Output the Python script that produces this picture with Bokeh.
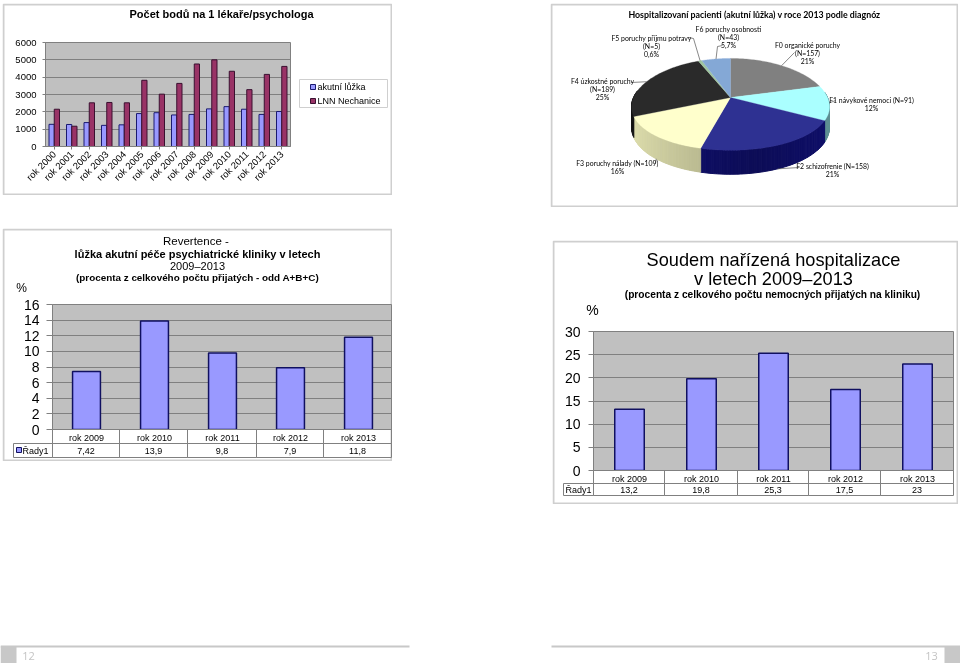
import numpy as np
from bokeh.plotting import figure
from bokeh.models import BoxAnnotation, Label, Range1d, SingleIntervalTicker
from bokeh.transform import dodge
from bokeh.embed import file_html
from bokeh.resources import INLINE

SANS = "Liberation Sans"
LATO = "Lato"

# ---- data
years_a = ["rok 2000", "rok 2001", "rok 2002", "rok 2003", "rok 2004", "rok 2005", "rok 2006",
           "rok 2007", "rok 2008", "rok 2009", "rok 2010", "rok 2011", "rok 2012", "rok 2013"]
akutni = [1280, 1270, 1380, 1220, 1250, 1900, 1950, 1820, 1850, 2170, 2300, 2150, 1850, 2020]
lnn = [2150, 1170, 2520, 2540, 2520, 3820, 3020, 3640, 4760, 5000, 4340, 3280, 4160, 4620]

years_b = ["rok 2009", "rok 2010", "rok 2011", "rok 2012", "rok 2013"]
revertence = [7.42, 13.9, 9.8, 7.9, 11.8]
revertence_txt = ["7,42", "13,9", "9,8", "7,9", "11,8"]
soud = [13.2, 19.8, 25.3, 17.5, 23]
soud_txt = ["13,2", "19,8", "25,3", "17,5", "23"]

diag_n = [157, 91, 158, 109, 189, 5, 43]
diag_top = ["#808080", "#aaffff", "#2e3192", "#ffffcc", "#2a2a2a", "#9fc5a0", "#84a8d6"]
diag_side = ["#5a5a5a", "#5f8f94", "#10106a", "#c8c89c", "#151515", "#708070", "#5a7aa0"]

BLUE, MAROON = "#9999ff", "#993366"
BG, GRID = "#c0c0c0", "#808080"
PANEL = "#cfcfcf"


def place(p, x, y):
    p.styles = {"position": "fixed", "left": f"{x}px", "top": f"{y}px"}


def txt(p, x, y, s, size=9, font=SANS, bold=False, align="center", color="#000000"):
    p.add_layout(Label(x=x, y=y, x_units="canvas", y_units="canvas", text=s, text_font=font,
                       text_font_size=f"{size}px", text_align=align, text_baseline="middle",
                       text_color=color, text_font_style="bold" if bold else "normal"))


def box(p, l, r, t, b, line=None, fill=None, lw=1):
    p.add_layout(BoxAnnotation(left=l, right=r, top=t, bottom=b,
                               left_units="canvas", right_units="canvas",
                               top_units="canvas", bottom_units="canvas",
                               fill_color=fill, fill_alpha=1 if fill else 0,
                               line_color=line, line_alpha=1 if line else 0, line_width=lw,
                               level="annotation"))


def sheet(x, y, w, h, **kw):
    """A full-frame sheet that carries a panel's outline and texts."""
    s = figure(width=w, height=h, min_border=0, toolbar_location=None, output_backend="svg",
               x_axis_type=None, y_axis_type=None, background_fill_color="#ffffff",
               outline_line_color=None, **kw)
    s.grid.visible = False
    place(s, x, y)
    return s


def base(x, y, w, h, l, r, t, b, **kw):
    p = figure(width=w, height=h, min_border_left=l, min_border_right=r, min_border_top=t,
               min_border_bottom=b, toolbar_location=None, output_backend="svg",
               background_fill_color=BG, border_fill_alpha=0, outline_line_color=GRID, **kw)
    place(p, x, y)
    return p


def style_axes(p, ysize, xsize, tick, standoff):
    p.xgrid.visible = False
    p.ygrid.grid_line_color = GRID
    for ax in (p.xaxis[0], p.yaxis[0]):
        ax.axis_line_color = GRID
        ax.major_tick_line_color = GRID
        ax.minor_tick_line_color = None
        ax.major_label_text_font = SANS
        ax.major_label_text_color = "#000000"
    p.yaxis[0].major_label_text_font_size = ysize
    p.xaxis[0].major_label_text_font_size = xsize
    p.yaxis[0].major_tick_out = tick
    p.yaxis[0].major_tick_in = 0
    p.yaxis[0].major_label_standoff = standoff


# ---- A: grouped bars
sa = sheet(2, 3, 390, 192)
txt(sa, 219, 10, "Počet bodů na 1 lékaře/psychologa", 11, bold=True)
box(sa, 1, 389, 1, 191, PANEL, None, 2)
box(sa, 297, 385, 76, 104, PANEL, None, 1)
box(sa, 308, 313, 81, 86, "#1a1a70", BLUE)
box(sa, 308, 313, 95, 100, "#3a1030", MAROON)
txt(sa, 315, 83.5, "akutní lůžka", 9, align="left")
txt(sa, 315, 97.5, "LNN Nechanice", 9, align="left")

a = base(2, 3, 390, 192, 43, 102, 39, 49, x_range=years_a, y_range=Range1d(0, 6000))
style_axes(a, "9.5px", "9.5px", 3, 5)
a.yaxis[0].ticker = SingleIntervalTicker(interval=1000)
a.xaxis[0].major_label_orientation = np.pi / 4
a.xaxis[0].major_tick_out = 3
a.xaxis[0].major_tick_in = 0
a.xaxis[0].major_label_standoff = 3
src_a = dict(cat=years_a, akutni=akutni, lnn=lnn)
a.vbar(x=dodge("cat", -0.15, range=a.x_range), top="akutni", width=0.3, bottom=0, source=src_a,
       fill_color=BLUE, line_color="#1a1a70")
a.vbar(x=dodge("cat", 0.15, range=a.x_range), top="lnn", width=0.3, bottom=0, source=src_a,
       fill_color=MAROON, line_color="#3a1030")

# ---- B: pie
b = sheet(550, 3, 408, 204, x_range=Range1d(-180, 228), y_range=Range1d(-110, 94))


def proj(theta):
    X, Y = np.sin(theta), np.cos(theta)
    return 97 * X / (1 + 0.2 * Y), 44.9 * Y / (1 + 0.149 * Y)


fr = np.cumsum([0] + diag_n) / sum(diag_n) * 2 * np.pi


def depth(theta):
    return 19 - 5 * np.cos(theta)


for i in range(len(diag_n)):
    ts = np.linspace(fr[i], fr[i + 1], 60)
    # side wall, front half only, shaded in thin strips
    for t0, t1 in zip(ts[:-1], ts[1:]):
        if not (np.pi / 2 - 0.12 < 0.5 * (t0 + t1) < 3 * np.pi / 2 + 0.15):
            continue
        x0, y0 = proj(t0)
        x1, y1 = proj(t1)
        rgb = np.array([int(diag_side[i][k:k + 2], 16) for k in (1, 3, 5)], float)
        rgb = rgb * (0.82 + 0.28 * abs(np.sin(0.5 * (t0 + t1)) - 0.2) * 0.9)
        col = "#%02x%02x%02x" % tuple(np.clip(rgb, 0, 255).astype(int))
        b.patch([x0, x1, x1, x0], [y0, y1, y1 - depth(t1), y0 - depth(t0)], fill_color=col, line_color=col, line_width=1)
for i in range(len(diag_n)):
    ts = np.linspace(fr[i], fr[i + 1], 60)
    xs, ys = proj(ts)
    b.patch(np.r_[0, xs], np.r_[0, ys], fill_color=diag_top[i], line_color=diag_top[i], line_width=0.3)

# label leaders run from the slice rims to beside their labels
mid = 0.5 * (fr[:-1] + fr[1:])
rim_x, rim_y = proj(mid)
leaders = [[(64, 45)], [(105, -3)], [(69, -70)], [(-75, -66)], [(-99, 15)],
           [(-37, 59), (-42, 60)], [(-13, 51), (-8, 52)]]
for i, pts in enumerate(leaders):
    y0 = rim_y[i] - (depth(mid[i]) if np.cos(mid[i]) < -0.5 else 0)
    b.line([rim_x[i]] + [q[0] for q in pts], [y0] + [q[1] for q in pts], line_color="#555555", line_width=0.7)

LBL = 6.9
txt(b, 204, 11, "Hospitalizovaní pacienti (akutní lůžka) v roce 2013 podle diagnóz", 8.8, LATO, True)
for cx, cy, lines in [
    (178, 25, ["F6 poruchy osobnosti", "(N=43)", "5,7%"]),
    (101, 34, ["F5 poruchy příjmu potravy", "(N=5)", "0,6%"]),
    (257, 41, ["F0 organické poruchy", "(N=157)", "21%"]),
    (321, 96, ["F1 návykové nemoci (N=91)", "12%"]),
    (52, 77, ["F4 úzkostné poruchy", "(N=189)", "25%"]),
    (67, 159, ["F3 poruchy nálady (N=109)", "16%"]),
    (282, 162, ["F2 schizofrenie (N=158)", "21%"]),
]:
    for j, s in enumerate(lines):
        txt(b, cx, cy + j * 8.2, s, LBL, LATO)
box(b, 1, 407, 1, 203, PANEL, None, 2)


# ---- C, D: bars with data table
def table_chart(x, y, w, h, l, r, t, bm, vals, labels, ymax, tick, rows, cols, name_l, swatch, tick_len, standoff):
    s = sheet(x, y, w, h)
    box(s, 1, w - 1, 1, h - 1, PANEL, None, 2)
    box(s, name_l, cols[0], rows[1], rows[2], GRID)
    for c0, c1 in zip(cols[:-1], cols[1:]):
        box(s, c0, c1, rows[0], rows[1], GRID)
        box(s, c0, c1, rows[1], rows[2], GRID)
    for c0, c1, lab in zip(cols[:-1], cols[1:], labels):
        txt(s, (c0 + c1) / 2, (rows[1] + rows[2]) / 2 + 0.5, lab, 9)
    if swatch:
        box(s, name_l + 3, name_l + 8, rows[1] + 4, rows[1] + 9, "#101060", BLUE)
        txt(s, name_l + 9, (rows[1] + rows[2]) / 2 + 0.5, "Řady1", 9, align="left")
    else:
        txt(s, name_l + 2, (rows[1] + rows[2]) / 2 + 0.5, "Řady1", 9, align="left")
    p = base(x, y, w, h, l, r, t, bm, x_range=years_b, y_range=Range1d(0, ymax))
    style_axes(p, "14px", "9px", tick_len, standoff)
    p.yaxis[0].ticker = SingleIntervalTicker(interval=tick)
    p.xaxis[0].major_tick_line_color = None
    p.xaxis[0].major_tick_out = 0
    p.xaxis[0].major_tick_in = 0
    p.xaxis[0].major_label_standoff = 3
    p.vbar(x=years_b, top=vals, width=0.41, bottom=0, fill_color=BLUE, line_color="#101060", line_width=1.5)
    return s, p


sc, c = table_chart(2, 228, 390, 233, 50, 0, 76, 32, revertence, revertence_txt, 16, 2,
                    [201, 215, 229], [50, 117, 185, 254, 321, 389], 11, True, 6, 7)
txt(sc, 195, 12, "Revertence  -", 11.5)
txt(sc, 195, 25, "lůžka akutní péče psychiatrické kliniky v letech", 11, bold=True)
txt(sc, 195, 37, "2009–2013", 11)
txt(sc, 195, 49, "(procenta z celkového počtu přijatých - odd A+B+C)", 9.9, bold=True)
txt(sc, 19, 59, "%", 12)

sd, d = table_chart(552, 240, 406, 264, 41, 5, 91, 34, soud, soud_txt, 30, 5,
                    [230, 243, 255], [41, 112, 185, 256, 328, 401], 11, False, 5, 8)
txt(sd, 221, 19, "Soudem nařízená hospitalizace", 18.2)
txt(sd, 221, 38, "v letech 2009–2013", 18.2)
txt(sd, 220, 54, "(procenta z celkového počtu nemocných přijatých na kliniku)", 10.2, bold=True)
txt(sd, 40, 69, "%", 14)

# ---- page footer
f = sheet(0, 643, 960, 20, x_range=Range1d(0, 960), y_range=Range1d(0, 20))
box(f, 0, 16, 3, 20, None, "#c8c8c8")
box(f, 944, 960, 3, 20, None, "#c8c8c8")
box(f, 0, 409, 2, 4, None, "#c8c8c8")
box(f, 551, 960, 2, 4, None, "#c8c8c8")
txt(f, 28, 12, "12", 11, "Open Sans", color="#c4c4c4")
txt(f, 931, 12, "13", 11, "Open Sans", color="#c4c4c4")

open("out.html", "w").write(file_html([sa, a, b, sc, c, sd, d, f], INLINE))
